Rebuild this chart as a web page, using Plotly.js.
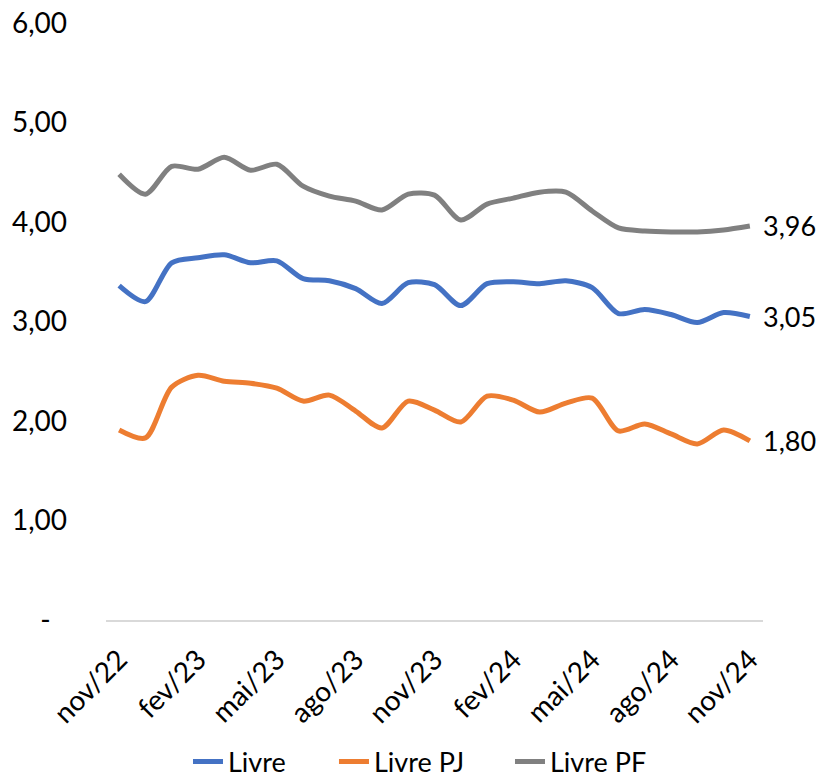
<!DOCTYPE html>
<html>
<head>
<meta charset="utf-8">
<script src="https://cdn.plot.ly/plotly-3.0.1.min.js"></script>
<style>
html,body{margin:0;padding:0;background:#fff;}
#chart{width:823px;height:779px;}
</style>
</head>
<body>
<div id="chart"></div>
<script>
const months = ["nov/22","dez/22","jan/23","fev/23","mar/23","abr/23","mai/23","jun/23","jul/23","ago/23","set/23","out/23","nov/23","dez/23","jan/24","fev/24","mar/24","abr/24","mai/24","jun/24","jul/24","ago/24","set/24","out/24","nov/24"];
const livre   = [3.36,3.20,3.59,3.64,3.67,3.59,3.61,3.43,3.41,3.33,3.18,3.39,3.37,3.16,3.38,3.40,3.38,3.41,3.34,3.08,3.12,3.07,2.99,3.09,3.05];
const livrePJ = [1.91,1.83,2.34,2.46,2.40,2.38,2.33,2.20,2.26,2.10,1.93,2.20,2.11,1.99,2.25,2.21,2.09,2.18,2.23,1.90,1.97,1.87,1.77,1.91,1.80];
const livrePF = [4.48,4.28,4.56,4.53,4.65,4.52,4.58,4.36,4.26,4.21,4.12,4.28,4.27,4.02,4.18,4.24,4.30,4.30,4.11,3.94,3.91,3.90,3.90,3.92,3.96];
const seriesNames = ["Livre","Livre PJ","Livre PF"];
const colors = ["#4472C4","#ED7D31","#808080"];
const yTickVals = [0,1,2,3,4,5,6];
const yTickText = ["-\u2007","1,00","2,00","3,00","4,00","5,00","6,00"];
const xTickIdx = [0,3,6,9,12,15,18,21,24];

const idx = months.map((m,i)=>i);
const font = "Lato, 'Open Sans', sans-serif";
const fs = 28;
const legendIds = ["legend","legend2","legend3"];
const data = [livre, livrePJ, livrePF].map((vals,k)=>({
  x: idx, y: vals, name: seriesNames[k], type: "scatter", mode: "lines",
  line: {color: colors[k], width: 5, shape: "spline", smoothing: 0.8},
  legend: legendIds[k], hoverinfo: "skip"
}));

const fmt = v => v.toFixed(2).replace(".", ",");
const last = months.length - 1;
const annotations = [livre, livrePJ, livrePF].map(vals=>({
  x: last, y: vals[last], xref: "x", yref: "y",
  text: fmt(vals[last]), showarrow: false, xanchor: "left", yanchor: "middle",
  xshift: 12, borderpad: 0, font: {family: font, size: 27, color: "#000"}
}));

const legendX = [0.1248, 0.3470, 0.6149];
const mkLegend = x => ({orientation: "h", x: x, xanchor: "left", y: -0.2379, yanchor: "middle",
  font: {family: font, size: 27, color: "#000"}, bgcolor: "rgba(0,0,0,0)"});

const layout = {
  width: 823, height: 779,
  margin: {l: 106, r: 60, t: 23, b: 159, autoexpand: false},
  paper_bgcolor: "#fff", plot_bgcolor: "#fff",
  showlegend: true,
  legend: mkLegend(legendX[0]),
  legend2: mkLegend(legendX[1]),
  legend3: mkLegend(legendX[2]),
  xaxis: {range: [-0.5, 24.5], tickvals: xTickIdx, ticktext: xTickIdx.map(i=>months[i]),
          tickangle: -45, showgrid: false, zeroline: false, showline: true, automargin: false,
          linecolor: "#D9D9D9", linewidth: 2, ticks: "", ticklabelstandoff: 10,
          tickfont: {family: font, size: fs, color: "#000"}, fixedrange: true},
  yaxis: {range: [0, 6], tickvals: yTickVals, ticktext: yTickText, automargin: false,
          showgrid: false, zeroline: false, showline: false, ticks: "",
          ticklabelstandoff: 38, tickfont: {family: font, size: fs, color: "#000"}, fixedrange: true},
  annotations: annotations
};
Plotly.newPlot("chart", data, layout, {displayModeBar: false, staticPlot: true});
</script>
</body>
</html>
